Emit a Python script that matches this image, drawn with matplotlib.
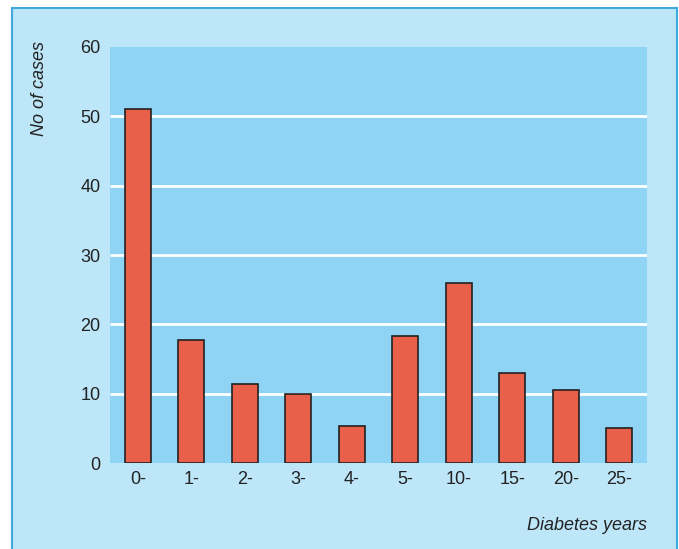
import matplotlib.pyplot as plt
from matplotlib.patches import Rectangle

# data
categories = ['0-', '1-', '2-', '3-', '4-', '5-', '10-', '15-', '20-', '25-']
cases = [51, 17.7, 11.4, 10, 5.3, 18.3, 25.9, 13, 10.5, 5.1]
yticks = [0, 10, 20, 30, 40, 50, 60]

outer_bg = '#bde6f8'
plot_bg = '#8fd3f5'
bar_col = '#e8604a'
frame_col = '#3ea8df'

plt.rcParams['font.family'] = ['Liberation Sans Narrow', 'Liberation Sans', 'DejaVu Sans']

fig = plt.figure(figsize=(6.79, 5.49), dpi=100)
fig.patch.set_facecolor('white')

# light blue panel with border, kept behind the axes
fig.patches.append(Rectangle((12 / 679, -0.02), 665 / 679, 1.02 - 8 / 549,
                             transform=fig.transFigure, facecolor=outer_bg,
                             edgecolor=frame_col, linewidth=1.5, zorder=-5))

ax = fig.add_axes([110 / 679, 86 / 549, 537 / 679, 416 / 549])
ax.set_zorder(2)
ax.set_facecolor(plot_bg)

x = list(range(len(categories)))
# white grid lines only inside the panel (not on 0 / 60 edges)
ax.hlines(yticks[1:-1], -0.52, 9.52, colors='white', linewidth=2, zorder=1)
ax.bar(x, cases, width=0.49, color=bar_col, edgecolor='#222222', linewidth=1.2, zorder=3)

ax.set_xlim(-0.52, 9.52)
ax.set_ylim(0, 60)
ax.set_yticks(yticks)
ax.set_xticks(x)
ax.set_xticklabels(categories)
ax.tick_params(length=0, labelsize=13, colors='#222222')
ax.tick_params(axis='y', pad=7)
ax.tick_params(axis='x', pad=6)
for s in ax.spines.values():
    s.set_visible(False)

fig.text(40 / 679, 1 - 88 / 549, 'No of cases', rotation=90, style='italic',
         fontsize=13, ha='center', va='center', color='#222222', zorder=3)
fig.text(647 / 679, 1 - 525 / 549, 'Diabetes years', style='italic',
         fontsize=13, ha='right', va='center', color='#222222', zorder=3)

fig.savefig('out.png', dpi=100, facecolor=fig.get_facecolor())
